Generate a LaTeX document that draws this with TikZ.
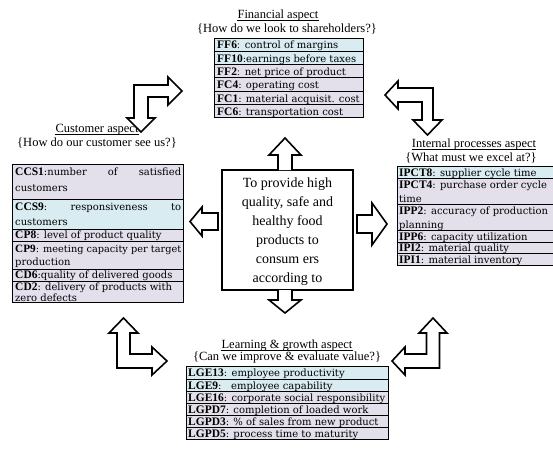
\documentclass[tikz,border=0pt]{standalone}
\usepackage{fontspec}
\setmainfont{Liberation Serif}
\newfontfamily\descfont{DejaVu Serif}
\definecolor{cyanrow}{HTML}{D9ECF1}
\definecolor{lavrow}{HTML}{E3DFEB}
\newcommand\lb[1]{{\fontsize{11.5}{12}\selectfont\bfseries #1}}
\newcommand\dsc[1]{{\descfont\fontsize{10}{11}\selectfont #1}}
\begin{document}
\begin{tikzpicture}[x=1pt,y=-1pt,
  barrow/.style={draw=black, fill=white, line width=1.6pt, line join=miter},
  tbl/.style={draw=black, line width=0.9pt},
  ttl/.style={font=\fontsize{12.5}{14}\selectfont, inner sep=0, anchor=base},
  uline/.style={draw=black, line width=0.5pt},
  cell/.style={anchor=base west, inner sep=0}]
\useasboundingbox[fill=white] (0,0) rectangle (553,448);

% ---------- Financial ----------
\node[ttl] (ftitle) at (278,18) {Financial aspect};
\draw[uline] ([yshift=-1.8pt]ftitle.base west) -- ([yshift=-1.8pt]ftitle.base east);
\node[ttl] (fq) at (287,32) {\{How do we look to shareholders?\}};
\draw[tbl, fill=cyanrow] (214,38) rectangle (363,51.3);
\draw[tbl, fill=cyanrow] (214,51.3) rectangle (363,64.6);
\draw[tbl, fill=lavrow] (214,64.6) rectangle (363,77.9);
\draw[tbl, fill=lavrow] (214,77.9) rectangle (363,91.2);
\draw[tbl, fill=lavrow] (214,91.2) rectangle (363,104.5);
\draw[tbl, fill=lavrow] (214,104.5) rectangle (363,117.8);
\node[cell] (f1) at (217,48.8) {\lb{FF6}:\ \ \dsc{control of margins}};
\node[cell] (f2) at (217,62.1) {\lb{FF10}\dsc{:earnings before taxes}};
\node[cell] (f3) at (217,75.4) {\lb{FF2}:\ \ \dsc{net price of product}};
\node[cell] (f4) at (217,88.7) {\lb{FC4}\dsc{: operating cost}};
\node[cell] (f5) at (217,102) {\lb{FC1}\dsc{: material acquisit. cost}};
\node[cell] (f6) at (217,115.3) {\lb{FC6}\dsc{: transportation cost}};

% ---------- Customer ----------
\node[ttl] (ctitle) at (97,132) {Customer aspect};
\draw[uline] ([yshift=-1.8pt]ctitle.base west) -- ([yshift=-1.8pt]ctitle.base east);
\node[ttl] (cq) at (97,146) {\{How do our customer see us?\}};
\draw[tbl, fill=lavrow] (12,164) rectangle (183,199);
\draw[tbl, fill=cyanrow] (12,199) rectangle (183,229);
\draw[tbl, fill=lavrow] (12,229) rectangle (183,241);
\draw[tbl, fill=lavrow] (12,241) rectangle (183,269);
\draw[tbl, fill=lavrow] (12,269) rectangle (183,281);
\draw[tbl, fill=lavrow] (12,281) rectangle (183,302);
\node[cell] (c1a) at (15,175) {\makebox[166pt][s]{\lb{CCS1}\dsc{:number}\hfill\dsc{of}\hfill\dsc{satisfied}}};
\node[cell] (c1b) at (15,191) {\dsc{customers}};
\node[cell] (c2a) at (15,210.5) {\makebox[166pt][s]{\lb{CCS9}\dsc{:}\hfill\dsc{responsiveness}\hfill\dsc{to}}};
\node[cell] (c2b) at (15,225.5) {\dsc{customers}};
\node[cell] (c3) at (15,238.8) {\lb{CP8}\dsc{: level of product quality}};
\node[cell] (c4a) at (15,252) {\resizebox{166pt}{!}{\lb{CP9}\dsc{: meeting capacity per target}}};
\node[cell] (c4b) at (15,265.5) {\dsc{production}};
\node[cell] (c5) at (15,278.8) {\lb{CD6}\dsc{:quality of delivered goods}};
\node[cell] (c6a) at (15,290.8) {\lb{CD2}\dsc{: delivery of products with}};
\node[cell] (c6b) at (15,301) {\dsc{zero defects}};

% ---------- Internal ----------
\node[ttl] (ititle) at (474,147) {Internal processes aspect};
\draw[uline] ([yshift=-1.8pt]ititle.base west) -- ([yshift=-1.8pt]ititle.base east);
\node[ttl] (iq) at (471,161) {\{What must we excel at?\}};
\draw[tbl, fill=cyanrow] (397,166) rectangle (560,178);
\draw[tbl, fill=lavrow] (397,178) rectangle (560,204);
\draw[tbl, fill=lavrow] (397,204) rectangle (560,230);
\draw[tbl, fill=lavrow] (397,230) rectangle (560,242);
\draw[tbl, fill=lavrow] (397,242) rectangle (560,253);
\draw[tbl, fill=lavrow] (397,253) rectangle (560,265);
\node[cell] (i1) at (399,176) {\lb{IPCT8}\dsc{: supplier cycle time}};
\node[cell] (i2a) at (399,188.5) {\lb{IPCT4}\dsc{: purchase order cycle}};
\node[cell] (i2b) at (399,202) {\dsc{time}};
\node[cell] (i3a) at (399,214.8) {\lb{IPP2}\dsc{: accuracy of production}};
\node[cell] (i3b) at (399,228.5) {\dsc{planning}};
\node[cell] (i4) at (399,240) {\lb{IPP6}\dsc{: capacity utilization}};
\node[cell] (i5) at (399,251.3) {\lb{IPI2}\dsc{: material quality}};
\node[cell] (i6) at (399,263) {\lb{IPI1}\dsc{: material inventory}};

% ---------- Learning ----------
\node[ttl] (ltitle) at (287,348) {Learning \& growth aspect};
\draw[uline] ([yshift=-1.8pt]ltitle.base west) -- ([yshift=-1.8pt]ltitle.base east);
\node[ttl] (lq) at (287,360) {\{Can we improve \& evaluate value?\}};
\draw[tbl, fill=cyanrow] (186,366) rectangle (388,379);
\draw[tbl, fill=cyanrow] (186,379) rectangle (388,391);
\draw[tbl, fill=lavrow] (186,391) rectangle (388,403);
\draw[tbl, fill=lavrow] (186,403) rectangle (388,415);
\draw[tbl, fill=lavrow] (186,415) rectangle (388,427);
\draw[tbl, fill=lavrow] (186,427) rectangle (388,439);
\node[cell] (l1) at (188,376.5) {\lb{LGE13}\dsc{: employee productivity}};
\node[cell] (l2) at (188,389) {\lb{LGE9}\dsc{:\ \ \ employee capability}};
\node[cell] (l3) at (188,401) {\lb{LGE16}\dsc{: corporate social responsibility}};
\node[cell] (l4) at (188,413) {\lb{LGPD7}\dsc{: completion of loaded work}};
\node[cell] (l5) at (188,425) {\lb{LGPD3}\dsc{: \% of sales from new product}};
\node[cell] (l6) at (188,437) {\lb{LGPD5}\dsc{: process time to maturity}};

% ---------- Centre box ----------
\node[draw=black, line width=1.3pt, minimum width=131pt, minimum height=120pt, inner sep=0] (centre) at (287.5,230) {};
\begin{scope}
\clip (222,170) rectangle (353,290);
\node[inner sep=0, align=center, anchor=north, font=\fontsize{14}{19}\selectfont] (ctext) at (287.5,178) {To provide high\\quality, safe and\\healthy food\\products to\\consum ers\\according to};
\end{scope}

% ---------- straight block arrows ----------
\draw[barrow] (278,170) -- (278,155) -- (269,155) -- (285,138) -- (301,155) -- (292,155) -- (292,170);
\draw[barrow] (278,290) -- (278,300) -- (269,300) -- (285,313) -- (301,300) -- (292,300) -- (292,290);
\draw[barrow] (218,213) -- (202,213) -- (202,207) -- (190,221.5) -- (202,236) -- (202,230) -- (218,230) -- cycle;
\draw[barrow] (357,215) -- (372,215) -- (372,203) -- (387,224) -- (372,245) -- (372,233) -- (357,233) -- cycle;

% ---------- bent block arrows ----------
\draw[barrow] (134,85) -- (168,85) -- (168,77) -- (182,91) -- (168,105) -- (168,97) -- (148,97) -- (148,118) -- (155,118) -- (141,132) -- (127,118) -- (134,118) -- cycle;
\draw[barrow] (433,88) -- (398,88) -- (398,81) -- (385,95) -- (398,109) -- (398,102) -- (422,102) -- (422,120) -- (413,120) -- (427.5,135) -- (442,120) -- (433,120) -- cycle;
\draw[barrow] (117,368) -- (117,333) -- (109,333) -- (123.5,318) -- (138,333) -- (130,333) -- (130,354) -- (152,354) -- (152,347) -- (167,361) -- (152,375) -- (152,368) -- cycle;
\draw[barrow] (439.5,368) -- (405,368) -- (405,375) -- (392,361) -- (405,347) -- (405,354) -- (426.5,354) -- (426.5,333) -- (419,333) -- (433,318) -- (447,333) -- (439.5,333) -- cycle;
\end{tikzpicture}
\end{document}
